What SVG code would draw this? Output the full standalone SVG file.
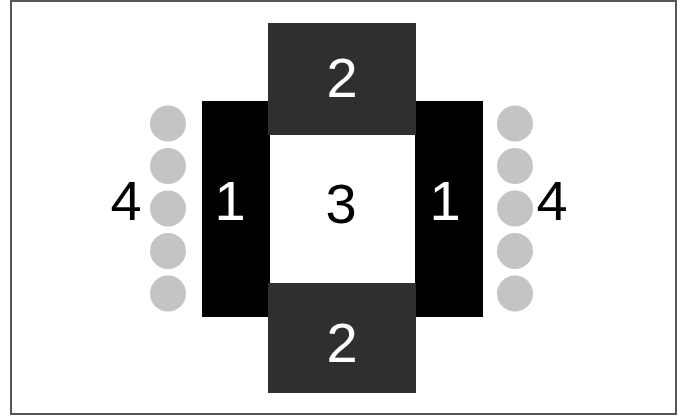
<svg xmlns="http://www.w3.org/2000/svg" width="687" height="416" viewBox="0 0 687 416">
<style>
.frame{fill:#fff;stroke:#555;stroke-width:2}
.core{fill:#000}
.yoke{fill:#2f2f2f}
.dot{fill:#c4c4c4}
.lbl{font-family:"Liberation Sans",Arial,sans-serif;font-size:56px;text-anchor:middle}
.w{fill:#fff}
.k{fill:#000}
</style>
<rect class="frame" x="11" y="1" width="665" height="413"/>
<g id="connectors"></g>
<g id="node-1-left">
<rect class="core" x="202" y="101" width="68" height="216"/>
<text class="lbl w" x="230" y="220">1</text>
</g>
<g id="node-1-right">
<rect class="core" x="415" y="101" width="68" height="216"/>
<text class="lbl w" x="445" y="220">1</text>
</g>
<g id="node-2-top">
<rect class="yoke" x="268" y="23" width="148" height="112"/>
<text class="lbl w" x="342" y="97">2</text>
</g>
<g id="node-2-bottom">
<rect class="yoke" x="268" y="283" width="148" height="110"/>
<text class="lbl w" x="342" y="362">2</text>
</g>
<g id="node-3">
<rect x="271" y="135" width="143" height="148" fill="#fff"/>
<text class="lbl k" x="341" y="223">3</text>
</g>
<g id="node-4-left">
<circle class="dot" cx="168" cy="123.5" r="18"/>
<circle class="dot" cx="168" cy="166" r="18"/>
<circle class="dot" cx="168" cy="208.5" r="18"/>
<circle class="dot" cx="168" cy="251" r="18"/>
<circle class="dot" cx="168" cy="293.5" r="18"/>
<text class="lbl k" x="126" y="220">4</text>
</g>
<g id="node-4-right">
<circle class="dot" cx="515" cy="123.5" r="18"/>
<circle class="dot" cx="515" cy="166" r="18"/>
<circle class="dot" cx="515" cy="208.5" r="18"/>
<circle class="dot" cx="515" cy="251" r="18"/>
<circle class="dot" cx="515" cy="293.5" r="18"/>
<text class="lbl k" x="552" y="220">4</text>
</g>
</svg>
